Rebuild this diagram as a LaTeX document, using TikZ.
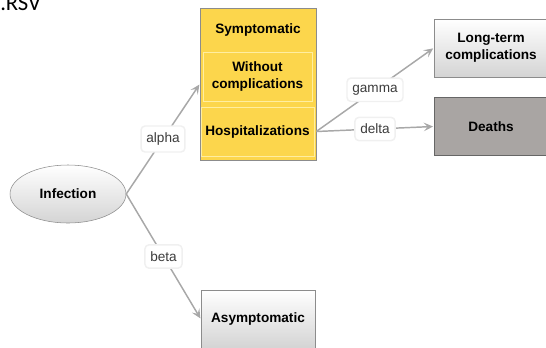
\documentclass[tikz,border=0pt]{standalone}
\usepackage{fontspec}
\setmainfont{Liberation Sans}
\newfontfamily\rsvfont{Carlito}
\usetikzlibrary{arrows.meta,shapes.geometric}
\definecolor{symyellow}{RGB}{252,214,76}
\definecolor{innerline}{RGB}{255,238,160}
\definecolor{boxline}{RGB}{140,140,140}
\definecolor{deathgray}{RGB}{169,165,163}
\definecolor{shadelo}{RGB}{212,212,212}
\definecolor{arrgray}{RGB}{168,168,168}
\definecolor{lbltext}{RGB}{60,60,60}

\begin{document}
\begin{tikzpicture}[x=0.75pt,y=-0.75pt,>=Stealth,
  every node/.style={font=\fontsize{10.2}{12.8}\selectfont},
  box/.style={draw=boxline,align=center,font=\bfseries\fontsize{10.2}{12.8}\selectfont,minimum width=85.5pt,minimum height=43.5pt,top color=white,bottom color=shadelo},
  inbox/.style={draw=innerline,fill=symyellow,align=center,font=\bfseries\fontsize{10.2}{12.8}\selectfont,minimum width=81.75pt,minimum height=36.75pt},
  lbl/.style={fill=white,draw=black!6,rounded corners=3pt,text=lbltext,inner xsep=4pt,inner ysep=5pt},
  arr/.style={->,arrgray,line width=1.1pt,shorten >=0.5pt,>={Stealth[length=7pt,width=6.5pt,inset=3pt]}}]
\useasboundingbox (0,0) rectangle (546,347);
\node[anchor=base west,inner sep=0,font=\rsvfont\fontsize{17}{20}\selectfont] (title) at (0,10) {.RSV};
\node[ellipse,draw=boxline,font=\bfseries\fontsize{10.2}{12.8}\selectfont,minimum width=87pt,minimum height=43.5pt,top color=white,bottom color=shadelo] (inf) at (68,194) {Infection};
\node[draw=boxline,fill=symyellow,minimum width=87pt,minimum height=114pt] (sym) at (258,84) {};
\node[font=\bfseries\fontsize{10.2}{12.8}\selectfont] (symtxt) at (258,30) {Symptomatic};
\node[inbox] (wo) at (257.5,76.5) {Without\\complications};
\node[inbox] (hosp) at (257.5,131.5) {Hospitalizations};
\node[box] (asym) at (258,319) {Asymptomatic};
\node[box] (long) at (491,48) {Long-term\\complications};
\node[box,draw=black!60,top color=deathgray,bottom color=deathgray] (death) at (491,126.5) {Deaths};
\draw[arr] (inf.east) -- node[lbl] {alpha} (sym.west);
\draw[arr] (inf.east) -- node[lbl] {beta} (asym.west);
\draw[arr] (hosp.east -| sym.east) -- node[lbl] {gamma} (long.west);
\draw[arr] (hosp.east -| sym.east) -- node[lbl] {delta} (death.west);
\end{tikzpicture}
\end{document}
